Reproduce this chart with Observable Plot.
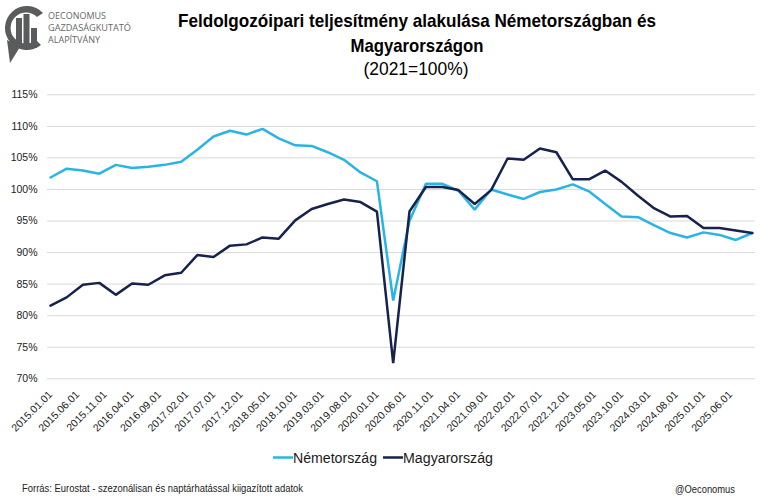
<!DOCTYPE html>
<html>
<head>
<meta charset="utf-8">
<script src="https://cdn.jsdelivr.net/npm/d3@7"></script>
<script src="https://cdn.jsdelivr.net/npm/@observablehq/plot@0.6"></script>
<style>
  html, body { margin: 0; padding: 0; background: #fff; }
  #wrap { position: relative; width: 768px; height: 502px; overflow: hidden; font-family: "Liberation Sans", Arial, sans-serif; }
  #head { position: absolute; left: 0; top: 0; }
  #chart { position: absolute; left: 0; top: 80px; }
  #foot { position: absolute; left: 0; top: 440px; }
</style>
</head>
<body>
<div id="wrap">
  <svg id="head" width="768" height="85" xmlns="http://www.w3.org/2000/svg">
    <!-- logo -->
    <g fill="#5a5b5d">
      <path d="M 43 13 A 22 22 0 1 0 41 45 L 36 40 A 15.5 15.5 0 1 1 37 17 Z"/>
      <path d="M 7 40 L 10 63 L 20 47 Z"/>
      <rect x="16" y="18" width="6" height="30"/>
      <rect x="23.5" y="14" width="6" height="34"/>
      <rect x="31" y="28" width="6" height="20"/>
    </g>
    <g fill="#666" font-family="'Open Sans', 'Liberation Sans', sans-serif" font-size="8.5">
      <text x="48" y="18.5" textLength="58" lengthAdjust="spacingAndGlyphs">OECONOMUS</text>
      <text x="48" y="30.5" textLength="83" lengthAdjust="spacingAndGlyphs">GAZDASÁGKUTATÓ</text>
      <text x="48" y="42.5" textLength="52" lengthAdjust="spacingAndGlyphs">ALAPÍTVÁNY</text>
    </g>
    <!-- title -->
    <g fill="#000" text-anchor="middle" font-family="'Liberation Sans Narrow', 'Arial Narrow', 'Liberation Sans', Arial, sans-serif">
      <text x="417" y="27" font-size="19" font-weight="bold" textLength="478" lengthAdjust="spacingAndGlyphs">Feldolgozóipari teljesítmény alakulása Németországban és</text>
      <text x="417" y="51.5" font-size="19" font-weight="bold" textLength="133" lengthAdjust="spacingAndGlyphs">Magyarországon</text>
      <text x="416" y="74.5" font-size="19" textLength="105" lengthAdjust="spacingAndGlyphs">(2021=100%)</text>
    </g>
  </svg>
  <div id="chart"></div>
  <svg id="foot" width="768" height="62" xmlns="http://www.w3.org/2000/svg" font-family="'Liberation Sans', Arial, sans-serif">
    <line x1="273" x2="293" y1="17.5" y2="17.5" stroke="#2ab4e6" stroke-width="2.5"/>
    <text x="293" y="22.5" font-size="14" fill="#1a1a1a" textLength="84" lengthAdjust="spacingAndGlyphs">Németország</text>
    <line x1="383" x2="403" y1="17.5" y2="17.5" stroke="#17224d" stroke-width="2.5"/>
    <text x="403" y="22.5" font-size="14" fill="#1a1a1a" textLength="90" lengthAdjust="spacingAndGlyphs">Magyarország</text>
    <text x="22" y="52" font-size="10" fill="#222" textLength="281" lengthAdjust="spacingAndGlyphs">Forrás: Eurostat - szezonálisan  és naptárhatással  kiigazított  adatok</text>
    <text x="675" y="53" font-size="10" fill="#222" textLength="60" lengthAdjust="spacingAndGlyphs">@Oeconomus</text>
  </svg>
</div>
<script>
// Quarterly observations (index, 2021 = 100%)
const periods = [
  "2015.01","2015.04","2015.07","2015.10",
  "2016.01","2016.04","2016.07","2016.10",
  "2017.01","2017.04","2017.07","2017.10",
  "2018.01","2018.04","2018.07","2018.10",
  "2019.01","2019.04","2019.07","2019.10",
  "2020.01","2020.04","2020.07","2020.10",
  "2021.01","2021.04","2021.07","2021.10",
  "2022.01","2022.04","2022.07","2022.10",
  "2023.01","2023.04","2023.07","2023.10",
  "2024.01","2024.04","2024.07","2024.10",
  "2025.01","2025.04","2025.07","2025.10"
];
const nemetorszag = [
  101.9, 103.3, 103.0, 102.5,
  103.9, 103.4, 103.6, 103.9,
  104.4, 106.3, 108.4, 109.3,
  108.7, 109.6, 108.1, 107.0,
  106.9, 105.9, 104.7, 102.7,
  101.3, 82.4, 95.0, 100.9,
  100.9, 99.8, 96.8, 100.0,
  99.2, 98.5, 99.6, 100.0,
  100.8, 99.7, 97.7, 95.7,
  95.6, 94.3, 93.1, 92.4,
  93.2, 92.8, 92.0, 93.1
];
const magyarorszag = [
  81.6, 82.9, 84.9, 85.2,
  83.3, 85.1, 84.9, 86.4,
  86.8, 89.6, 89.3, 91.1,
  91.3, 92.4, 92.2, 95.1,
  96.9, 97.7, 98.4, 98.0,
  96.5, 72.5, 96.5, 100.4,
  100.4, 99.9, 97.7, 99.9,
  104.9, 104.7, 106.5, 105.9,
  101.6, 101.6, 103.0, 101.2,
  99.0, 97.0, 95.7, 95.8,
  93.9, 93.9, 93.5, 93.1
];
const seriesNames = ["Németország", "Magyarország"];
const seriesColors = ["#2ab4e6", "#17224d"];
const xTickLabels = [
  "2015.01.01","2015.06.01","2015.11.01","2016.04.01","2016.09.01","2017.02.01",
  "2017.07.01","2017.12.01","2018.05.01","2018.10.01","2019.03.01","2019.08.01",
  "2020.01.01","2020.06.01","2020.11.01","2021.04.01","2021.09.01","2022.02.01",
  "2022.07.01","2022.12.01","2023.05.01","2023.10.01","2024.03.01","2024.08.01",
  "2025.01.01","2025.06.01"
];
const yTicks = [70, 75, 80, 85, 90, 95, 100, 105, 110, 115];

const toDate = s => { const p = s.split("."); return new Date(Date.UTC(+p[0], +p[1] - 1, p[2] ? +p[2] : 1)); };
const rows = [];
periods.forEach((p, i) => {
  rows.push({date: toDate(p), value: nemetorszag[i], series: seriesNames[0]});
});
periods.forEach((p, i) => {
  rows.push({date: toDate(p), value: magyarorszag[i], series: seriesNames[1]});
});
const xTicks = xTickLabels.map(toDate);
const fmt = d3.utcFormat("%Y.%m.%d");

const chart = Plot.plot({
  width: 768,
  height: 360,
  marginLeft: 47,
  marginRight: 13,
  marginTop: 14.3,
  marginBottom: 61.7,
  style: {fontFamily: "'Liberation Sans', Arial, sans-serif", fontSize: "10.5px", color: "#222", background: "transparent"},
  x: {type: "utc", domain: [new Date(Date.UTC(2014, 11, 15)), new Date(Date.UTC(2025, 9, 19))]},
  y: {domain: [70, 115]},
  color: {domain: seriesNames, range: seriesColors},
  marks: [
    Plot.gridY(yTicks, {stroke: "#d9d9d9", strokeOpacity: 1, strokeWidth: 1}),
    Plot.axisY(yTicks, {tickSize: 0, tickPadding: 10, tickFormat: d => d + "%", label: null, fontSize: 10.5}),
    Plot.axisX(xTicks, {tickSize: 0, tickPadding: 14, tickRotate: -45, tickFormat: fmt, label: null, fontSize: 10.5}),
    Plot.line(rows, {x: "date", y: "value", z: "series", stroke: "series", strokeWidth: 2.5, strokeLinejoin: "miter"})
  ]
});
document.getElementById("chart").appendChild(chart);
</script>
</body>
</html>
